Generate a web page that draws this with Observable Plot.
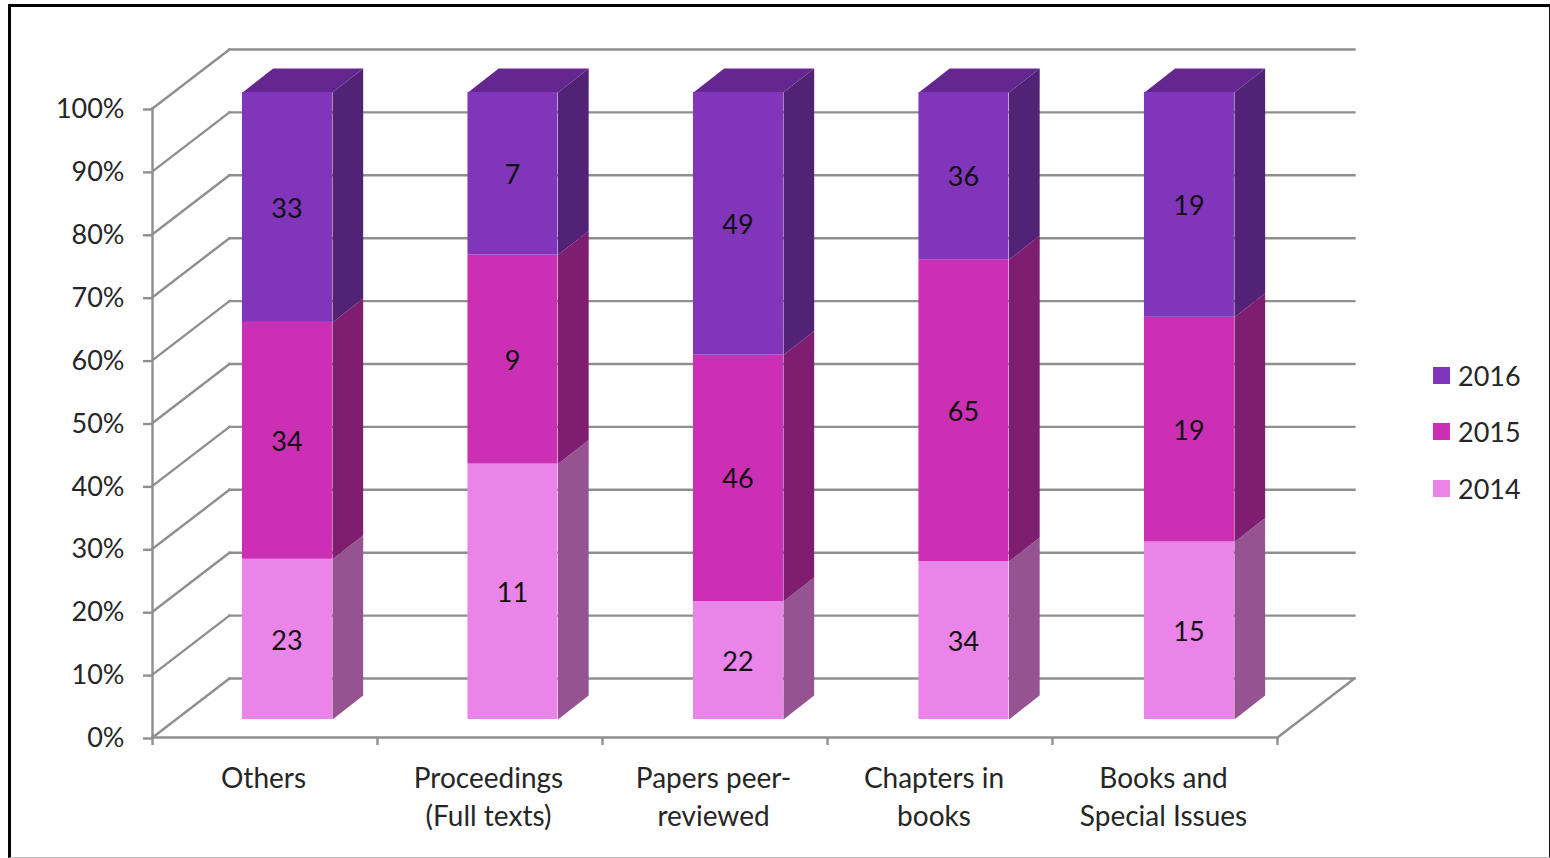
<!DOCTYPE html>
<html>
<head>
<meta charset="utf-8">
<script src="https://cdn.jsdelivr.net/npm/d3@7"></script>
<script src="https://cdn.jsdelivr.net/npm/@observablehq/plot@0.6"></script>
<style>
  html, body { margin: 0; padding: 0; background: #fff; overflow: hidden; }
  #frame { position: absolute; left: 8px; top: 4px; width: 1538px; height: 850px;
           border-left: 3px solid #000; border-top: 3px solid #000;
           border-right: 2px solid #111; border-bottom: 1px solid #bbb; }
  #chart { position: absolute; left: 0; top: 0; }
  #legend { position: absolute; left: 1433px; top: 347px; font: 27px Lato, sans-serif; color: #262626; }
  #legend div { display: flex; align-items: center; height: 56.5px; }
  #legend i { display: block; width: 17px; height: 17px; margin-right: 8px; }
</style>
</head>
<body>
<div id="frame"></div>
<div id="chart"></div>
<div id="legend"></div>
<script>
const categories = ["Others", "Proceedings\n(Full texts)", "Papers peer-\nreviewed", "Chapters in\nbooks", "Books and\nSpecial Issues"];
const years = ["2014", "2015", "2016"];
const values2014 = [23, 11, 22, 34, 15];
const values2015 = [34, 9, 46, 65, 19];
const values2016 = [33, 7, 49, 36, 19];
const percentTicks = [0, 10, 20, 30, 40, 50, 60, 70, 80, 90, 100];
const frontColors = ["#eb84e8", "#cb2fb4", "#8035bb"];
const sideColors = ["#955392", "#7f1d70", "#522277"];
const topColor = "#64278f";

const series = [values2014, values2015, values2016];
const GRID = "#8f8f8f", TEXT = "#262626";

// Oblique projection of the chart's depth axis, in data units
const DX = 0.342, DY = 9.38;
const BAR = 0.4, STEP = 1.0022, VSCALE = 0.9968;
const FRONT_X = 0.292, BACK_X = 0.691, FRONT_Y = 0.305, BACK_Y = 0.712;
const px = (i, u, d) => i * STEP + 0.5 + u * BAR / 2 + d * DX;
const py = (v, d) => v * VSCALE + d * DY;

// Stack each category to 100%
const segments = [];
categories.forEach((c, i) => {
  const total = d3.sum(series, s => s[i]);
  let acc = 0;
  series.forEach((s, k) => {
    const lo = acc / total * 100;
    acc += s[i];
    segments.push({i, k, value: s[i], lo, hi: acc / total * 100});
  });
});

const sidePts = [], topPts = [];
segments.forEach((s, n) => {
  [[FRONT_X, FRONT_Y, s.lo], [BACK_X, BACK_Y, s.lo], [BACK_X, BACK_Y, s.hi], [FRONT_X, FRONT_Y, s.hi]].forEach(([dx, dy, v]) =>
    sidePts.push({id: n, x: px(s.i, 1, dx), y: py(v, dy), fill: sideColors[s.k]}));
  if (s.k === series.length - 1) {
    [[-1, FRONT_X, FRONT_Y], [1, FRONT_X, FRONT_Y], [1, BACK_X, BACK_Y], [-1, BACK_X, BACK_Y]].forEach(([u, dx, dy]) =>
      topPts.push({id: n, x: px(s.i, u, dx), y: py(s.hi, dy)}));
  }
});

const grid = [];
percentTicks.forEach(v => {
  grid.push({x1: 0, y1: v, x2: DX, y2: v + DY});
  grid.push({x1: DX, y1: v + DY, x2: categories.length + DX, y2: v + DY});
});
grid.push({x1: categories.length, y1: 0, x2: categories.length + DX, y2: DY});
grid.push({x1: 0, y1: 0, x2: categories.length, y2: 0});
grid.push({x1: 0, y1: 0, x2: 0, y2: 100});

const font = {fontFamily: "Lato, sans-serif", fontSize: 27};

const plot = Plot.plot({
  width: 1550, height: 858,
  marginLeft: 152, marginRight: 273, marginTop: 108, marginBottom: 121,
  style: {background: "transparent", fontFamily: "Lato, sans-serif", overflow: "visible"},
  x: {type: "linear", domain: [0, categories.length]},
  y: {type: "linear", domain: [0, 100]},
  marks: [
    Plot.link(grid, {x1: "x1", y1: "y1", x2: "x2", y2: "y2", stroke: GRID, strokeWidth: 2.4, strokeLinecap: "square"}),
    Plot.axisY({ticks: percentTicks, tickFormat: d => d + "%", tickSize: 9, tickPadding: 19,
                stroke: GRID, fill: TEXT, strokeWidth: 2.4, label: null, ...font, dy: 1}),
    Plot.axisX({ticks: d3.range(categories.length + 1), tickFormat: () => "", tickSize: 8,
                stroke: GRID, strokeWidth: 2.4, label: null}),
    Plot.text(categories, {x: (d, i) => i + 0.5 - (i === 3 ? 0.02 : 0), y: 0, text: d => d,
              frameAnchor: "bottom", lineAnchor: "top", dy: 23, dx: -1.5, lineHeight: 1.36, fill: TEXT,
              fontFamily: "Lato, sans-serif", fontSize: 28}),
    Plot.line(sidePts, {x: "x", y: "y", z: "id", fill: "fill", stroke: null}),
    Plot.line(topPts, {x: "x", y: "y", z: "id", fill: topColor, stroke: null}),
    Plot.rect(segments, {
      x1: d => px(d.i, -1, FRONT_X), x2: d => px(d.i, 1, FRONT_X),
      y1: d => py(d.lo, FRONT_Y), y2: d => py(d.hi, FRONT_Y),
      fill: d => frontColors[d.k]
    }),
    Plot.text(segments, {
      x: d => px(d.i, 0, FRONT_X), y: d => py((d.lo + d.hi) / 2, FRONT_Y), text: d => String(d.value),
      fill: "#111", dx: -0.5, dy: 1.5, ...font
    })
  ]
});
document.getElementById("chart").appendChild(plot);

const legend = document.getElementById("legend");
years.slice().reverse().forEach((y, idx) => {
  const row = document.createElement("div");
  const sw = document.createElement("i");
  sw.style.background = frontColors[years.length - 1 - idx];
  row.appendChild(sw);
  row.appendChild(document.createTextNode(y));
  legend.appendChild(row);
});
</script>
</body>
</html>
